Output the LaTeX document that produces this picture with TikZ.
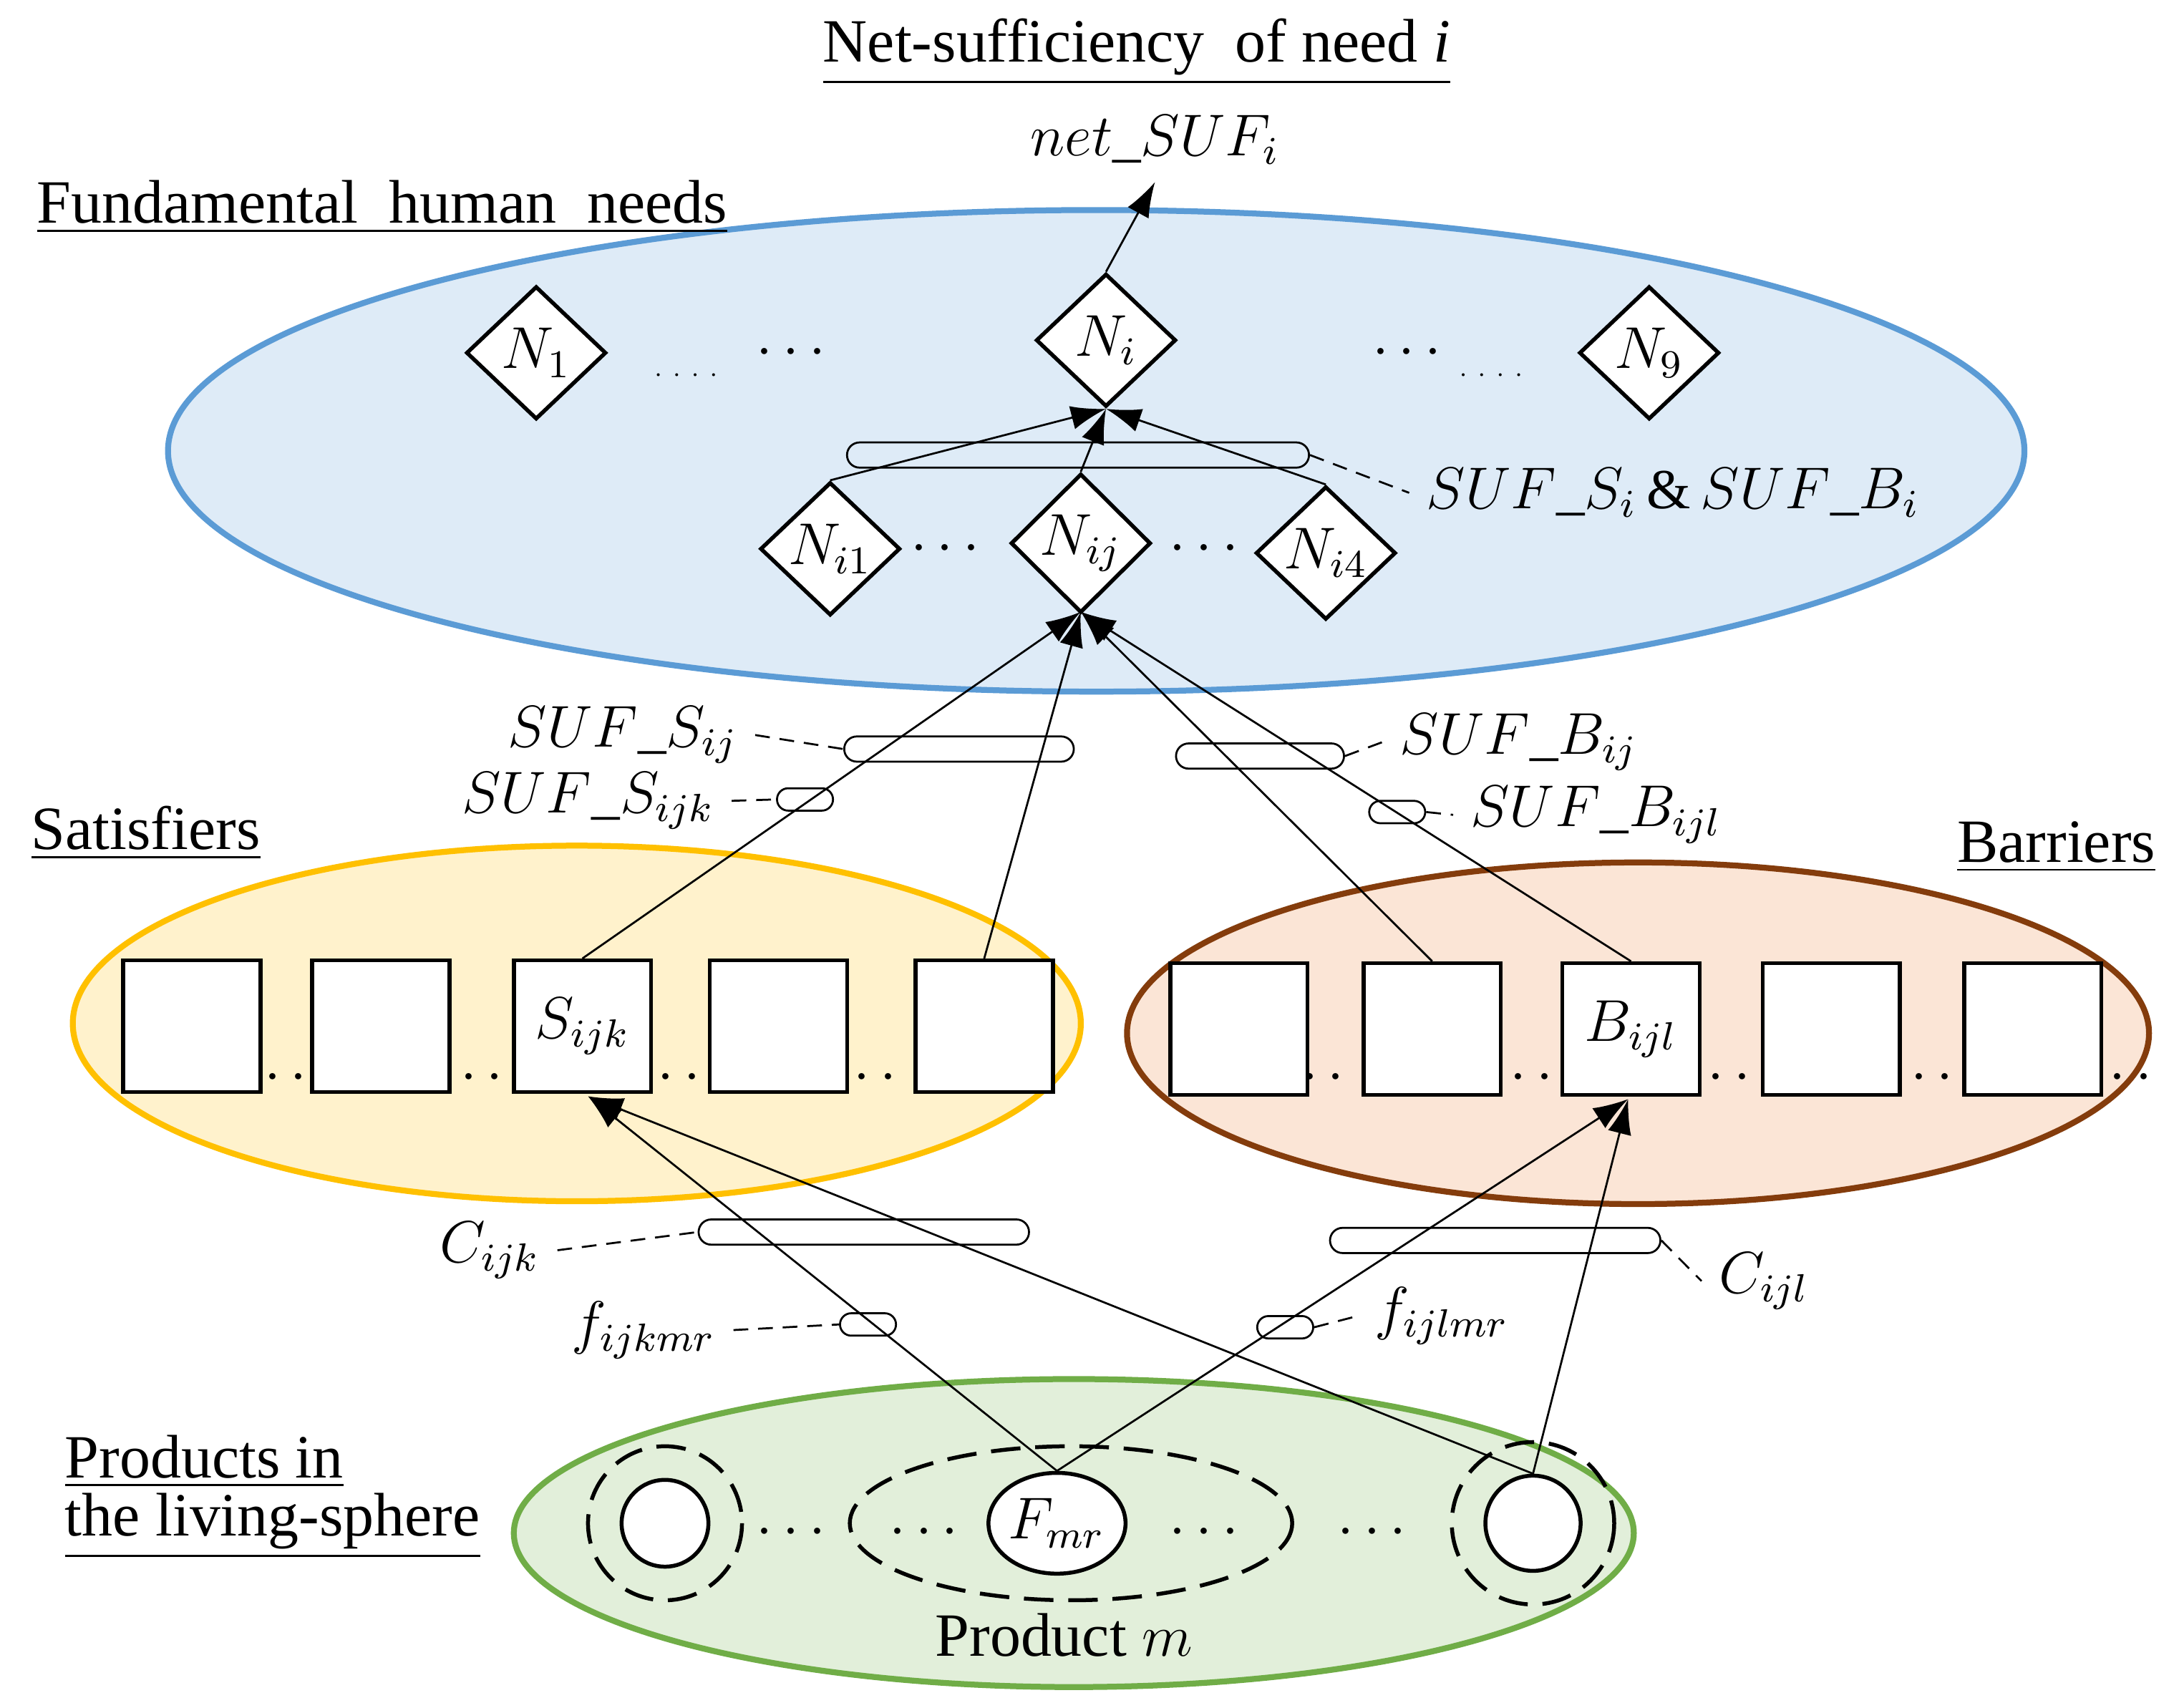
\documentclass[tikz,border=0pt]{standalone}
\usepackage{fontspec}
\setmainfont{Liberation Serif}
\usetikzlibrary{shapes.geometric,shapes.misc,arrows.meta}
\begin{document}
\begin{tikzpicture}[x=0.1mm,y=-0.1mm,font=\fontsize{12.5}{14}\selectfont,
 dia/.style={draw,thick,diamond,fill=white,minimum width=1cm,minimum height=0.95cm,inner sep=0},
 box/.style={draw,thick,fill=white,minimum width=0.98cm,minimum height=0.94cm,inner sep=0},
 pill/.style={draw,rounded rectangle,inner sep=0},
 arr/.style={-{Latex[length=2.5mm,width=1.7mm]}},
 lead/.style={densely dashed,thin},
 mth/.style={font=\fontsize{11.5}{13}\selectfont},
 ttl/.style={anchor=west,align=left}]
\useasboundingbox (0,0) rectangle (1560,1216);
\definecolor{bluef}{HTML}{DEEBF7}\definecolor{blued}{HTML}{5B9BD5}
\definecolor{yelf}{HTML}{FFF2CC}\definecolor{yeld}{HTML}{FFC000}
\definecolor{orf}{HTML}{FBE5D6}\definecolor{ord}{HTML}{843C0C}
\definecolor{grf}{HTML}{E2EFDA}\definecolor{grd}{HTML}{70AD47}
% ellipses
\draw[line width=1.2pt,draw=blued,fill=bluef] (783,322) ellipse [x radius=663,y radius=172];
\draw[line width=1.2pt,draw=yeld,fill=yelf] (412,731) ellipse [x radius=360,y radius=127];
\draw[line width=1.2pt,draw=ord,fill=orf] (1170,738) ellipse [x radius=365,y radius=122];
\draw[line width=1.2pt,draw=grd,fill=grf] (767,1095) ellipse [x radius=400,y radius=110];
% titles
\node (t1) at (812,37) {\underline{Net-sufficiency\ \ of need \textit{i}}};
\node[mth] (net) at (825,100) {$net\_SUF_i$};
\node[ttl] (t2) at (14,148) {\underline{Fundamental\ \ human\ \ needs}};
\node[ttl] (t3) at (10,595) {\underline{Satisfiers}};
\node[anchor=east] (t4) at (1552,605) {\underline{Barriers}};
\node[ttl] (t5) at (34,1044) {\underline{Products in}};
\node[ttl] (t6) at (34,1090) {\underline{the living-sphere}};
% diamonds
\node[dia,mth] (N1) at (383,252) {$N_1$};
\node[dia,mth] (Ni) at (790,243) {$N_i$};
\node[dia,mth] (N9) at (1178,252) {$N_9$};
\node (d1) at (565,252) {$\cdots$};
\node (d2) at (1005,252) {$\cdots$};
\node (d3) at (490,268) {\tiny .\ \ .\ \ .\ \ .};
\node (d4) at (1065,268) {\tiny .\ \ .\ \ .\ \ .};
\node[dia,mth] (Ni1) at (593,392) {$N_{i1}$};
\node[dia,mth] (Nij) at (772,388) {$N_{ij}$};
\node[dia,mth] (Ni4) at (947,395) {$N_{i4}$};
\node (d5) at (675,392) {$\cdots$};
\node (d6) at (860,392) {$\cdots$};
\node[pill,minimum width=3.3cm,minimum height=0.18cm] (c1) at (770,325) {};
\coordinate (pNi) at (790,292);
\draw[arr] (Ni.north) -- (net.south);
\draw[arr] (Ni1.north) -- (pNi);
\draw[arr] (Nij.north) -- (pNi);
\draw[arr] (Ni4.north) -- (pNi);
\node[mth] (l1) at (1195,352) {$SUF\_S_i\,\&\,SUF\_B_i$};
\draw[lead] (c1.east) -- (l1.west);
% squares
\foreach \n/\x in {s1/137,s2/272,s4/556,s5/703}{\node[box] (\n) at (\x,733) {};}
\node[box,mth] (s3) at (416,733) {$S_{ijk}$};
\foreach \n/\x in {b1/885,b2/1023,b4/1308,b5/1452}{\node[box] (\n) at (\x,735) {};}
\node[box,mth] (b3) at (1165,735) {$B_{ijl}$};
\foreach \x [count=\i] in {204,344,485,625,945,1094,1235,1380,1522}{\node (dd\i) at (\x,770) {$\cdot\,\cdot$};}
\coordinate (pNij) at (772,437);
\draw[arr] (s3.north) -- (pNij);
\draw[arr] (s5.north) -- (pNij);
\draw[arr] (b2.north) -- (pNij);
\draw[arr] (b3.north) -- (pNij);
\node[pill,minimum width=1.64cm,minimum height=0.18cm] (c2) at (685,535) {};
\node[pill,minimum width=0.4cm,minimum height=0.16cm] (c3) at (575,571) {};
\node[pill,minimum width=1.2cm,minimum height=0.18cm] (c4) at (900,540) {};
\node[pill,minimum width=0.4cm,minimum height=0.16cm] (c5) at (998,580) {};
\node[mth] (l2) at (445,525) {$SUF\_S_{ij}$};
\node[mth] (l3) at (420,572) {$SUF\_S_{ijk}$};
\node[mth] (l4) at (1085,530) {$SUF\_B_{ij}$};
\node[mth] (l5) at (1140,582) {$SUF\_B_{ijl}$};
\draw[lead] (l2.east) -- (c2.west);
\draw[lead] (l3.east) -- (c3.west);
\draw[lead] (c4.east) -- (l4.west);
\draw[lead] (c5.east) -- (l5.west);
% products
\draw[thick,dash pattern=on 6pt off 3pt] (765,1088) ellipse [x radius=158,y radius=55];
\draw[thick,dash pattern=on 6pt off 3pt] (475,1088) circle [radius=55];
\draw[thick,dash pattern=on 6pt off 3pt] (1095,1088) circle [radius=58];
\node[draw,thick,ellipse,fill=white,minimum width=0.8cm,minimum height=0.72cm,inner sep=0,mth] (F) at (755,1088) {$F_{mr}$};
\node[draw,thick,circle,fill=white,minimum size=0.62cm] (pl) at (475,1088) {};
\node[draw,thick,circle,fill=white,minimum size=0.68cm] (pr) at (1095,1088) {};
\foreach \x [count=\i] in {565,660,860,980}{\node (g\i) at (\x,1095) {$\cdots$};}
\node (pm) at (760,1168) {Product $m$};
\coordinate (pS) at (420,783);
\coordinate (pB) at (1163,785);
\draw[arr] (F.north) -- (pS);
\draw[arr] (F.north) -- (pB);
\draw[arr] (pr.north) -- (pS);
\draw[arr] (pr.north) -- (pB);
\node[pill,minimum width=2.36cm,minimum height=0.18cm] (c6) at (617,880) {};
\node[pill,minimum width=2.36cm,minimum height=0.18cm] (c7) at (1068,886) {};
\node[pill,minimum width=0.4cm,minimum height=0.16cm] (c8) at (620,946) {};
\node[pill,minimum width=0.4cm,minimum height=0.16cm] (c9) at (918,948) {};
\node[mth] (l6) at (350,893) {$C_{ijk}$};
\node[mth] (l7) at (460,950) {$f_{ijkmr}$};
\node[mth] (l8) at (1030,940) {$f_{ijlmr}$};
\node[mth] (l9) at (1260,915) {$C_{ijl}$};
\draw[lead] (l6.east) -- (c6.west);
\draw[lead] (l7.east) -- (c8.west);
\draw[lead] (c9.east) -- (l8.west);
\draw[lead] (c7.east) -- (l9.west);
\end{tikzpicture}
\end{document}
